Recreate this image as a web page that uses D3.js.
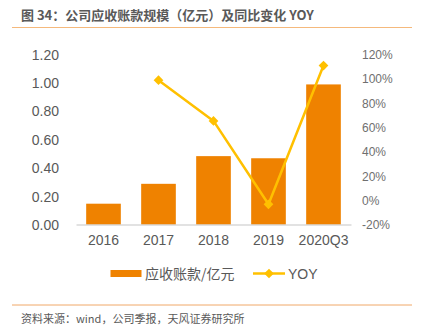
<!DOCTYPE html>
<html><head><meta charset="utf-8">
<script src="https://cdn.jsdelivr.net/npm/d3@7"></script>
<style>
html,body{margin:0;padding:0;background:#fff;}
svg{display:block;}
text{font-family:"Liberation Sans",Arial,"Noto Sans CJK SC",sans-serif;}
</style></head>
<body>
<svg id="chart" width="424" height="336"></svg>
<script>
const categories = ["2016","2017","2018","2019","2020Q3"];
const receivables = [0.15, 0.29, 0.485, 0.47, 0.99];
const yoy = [null, 99, 65.5, -3, 111];
const leftTicks = [0, 0.2, 0.4, 0.6, 0.8, 1.0, 1.2];
const rightTicks = [-20, 0, 20, 40, 60, 80, 100, 120];
const titleText = "图 34：公司应收账款规模（亿元）及同比变化 YOY";
const sourceText = "资料来源：wind，公司季报，天风证券研究所";
const legendLabels = ["应收账款/亿元", "YOY"];

const svg = d3.select("#chart");
const barColor = "#EF8200", lineColor = "#FFC000", textColor = "#595959";
const cjk = '"Noto Sans CJK SC","Liberation Sans",sans-serif';

// Title
svg.append("text").attr("x", 21).attr("y", 19.5)
  .attr("font-size", 13).attr("font-weight", "bold").attr("fill", textColor)
  .style("font-family", cjk).text(titleText);
svg.append("line").attr("x1", 12).attr("x2", 412).attr("y1", 27.5).attr("y2", 27.5)
  .attr("stroke", "#F5B97C").attr("stroke-width", 1.2);

const x = d3.scaleBand().domain(categories).range([76, 351]).paddingInner(0.37).paddingOuter(0.185);
const yL = d3.scaleLinear().domain([0, 1.2]).range([225, 54.6]);
const yR = d3.scaleLinear().domain([-20, 120]).range([225, 54.6]);

// Left axis
const axL = svg.append("g").attr("transform", "translate(59,0)")
  .call(d3.axisLeft(yL).tickValues(leftTicks).tickFormat(d3.format(".2f")).tickSize(0).tickPadding(0));
axL.select(".domain").remove();
axL.selectAll("text").attr("font-size", 14).attr("fill", textColor).style("font-family", '"Liberation Sans",Arial,sans-serif');

// Right axis
const axR = svg.append("g").attr("transform", "translate(362,0)")
  .call(d3.axisRight(yR).tickValues(rightTicks).tickFormat(d => d + "%").tickSize(0).tickPadding(0));
axR.select(".domain").remove();
axR.selectAll("text").attr("font-size", 12).attr("fill", "#6f6f6f").style("font-family", '"Liberation Sans Narrow","Liberation Sans",Arial,sans-serif');

// Bars
svg.append("g").selectAll("rect").data(categories).join("rect")
  .attr("x", d => x(d)).attr("width", x.bandwidth())
  .attr("y", (d, i) => yL(receivables[i])).attr("height", (d, i) => yL(0) - yL(receivables[i]))
  .attr("fill", barColor);

// X axis
const axX = svg.append("g").attr("transform", "translate(0,224.5)")
  .call(d3.axisBottom(x).tickSize(0).tickPadding(11));
axX.select(".domain").attr("stroke", "#D9D9D9").attr("stroke-width", 1.5);
axX.selectAll("text").attr("font-size", 14).attr("fill", textColor).style("font-family", '"Liberation Sans",Arial,sans-serif');

// Line
const pts = categories.map((c, i) => ({c, v: yoy[i]})).filter(d => d.v !== null);
const line = d3.line().x(d => x(d.c) + x.bandwidth() / 2).y(d => yR(d.v));
svg.append("path").datum(pts).attr("d", line).attr("fill", "none")
  .attr("stroke", lineColor).attr("stroke-width", 2.5).attr("stroke-linejoin", "round");
const diamond = d3.symbol().type(d3.symbolDiamond2).size(60);
svg.append("g").selectAll("path").data(pts).join("path")
  .attr("d", diamond)
  .attr("transform", d => `translate(${x(d.c) + x.bandwidth() / 2},${yR(d.v)})`)
  .attr("fill", lineColor);

// Legend
const lg = svg.append("g");
lg.append("rect").attr("x", 110.5).attr("y", 270).attr("width", 31).attr("height", 7).attr("fill", barColor);
lg.append("text").attr("x", 145).attr("y", 278.5).attr("font-size", 14).attr("fill", textColor)
  .style("font-family", cjk).text(legendLabels[0]);
lg.append("line").attr("x1", 253).attr("x2", 285).attr("y1", 273.5).attr("y2", 273.5)
  .attr("stroke", lineColor).attr("stroke-width", 2.5);
lg.append("path").attr("d", diamond).attr("transform", "translate(269,273.5)").attr("fill", lineColor);
lg.append("text").attr("x", 288).attr("y", 278.5).attr("font-size", 14).attr("fill", textColor)
  .style("font-family", '"Liberation Sans",Arial,sans-serif').text(legendLabels[1]);

// Bottom line and source
svg.append("line").attr("x1", 12).attr("x2", 412).attr("y1", 305).attr("y2", 305)
  .attr("stroke", "#F0A868").attr("stroke-width", 1);
svg.append("text").attr("x", 21).attr("y", 323).attr("font-size", 11).attr("fill", textColor)
  .style("font-family", cjk).text(sourceText);
</script>
</body></html>
